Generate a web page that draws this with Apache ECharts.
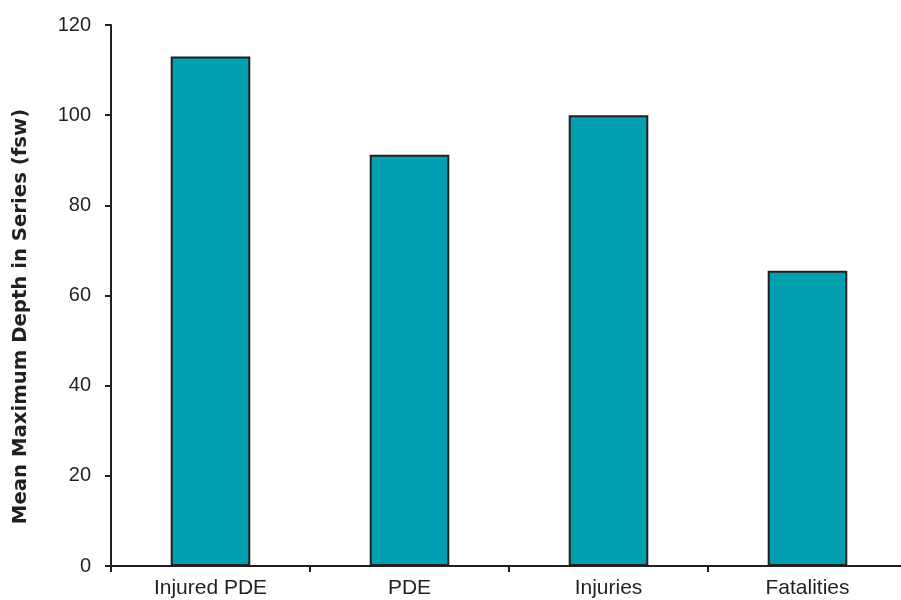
<!DOCTYPE html>
<html><head><meta charset="utf-8">
<script src="https://cdn.jsdelivr.net/npm/echarts@6/dist/echarts.min.js"></script>
<style>html,body{margin:0;padding:0;background:#fff}#c{width:901px;height:600px}</style>
</head><body><div id="c"></div>
<script>
const categories = ["Injured PDE", "PDE", "Injuries", "Fatalities"];
const meanDepth = [113, 91.2, 100, 65.5];
const yTitle = "Mean Maximum Depth in Series (fsw)";

const chart = echarts.init(document.getElementById('c'), null, {renderer: 'canvas'});
const txt = '#231f20';
chart.setOption({
  animation: false,
  backgroundColor: '#ffffff',
  grid: {left: 111, top: 25, width: 796, height: 541, containLabel: false, outerBoundsMode: 'none'},
  graphic: [{
    type: 'text', x: 20.5, y: 316.5, rotation: Math.PI / 2,
    style: {text: yTitle, fill: txt, fontSize: 19.7, fontWeight: 'bold',
      fontFamily: 'DejaVu Sans, sans-serif', align: 'center', verticalAlign: 'middle'}
  }],
  xAxis: {
    type: 'category', data: categories, boundaryGap: true,
    axisLine: {lineStyle: {color: txt, width: 2}},
    axisTick: {show: true, length: 6, alignWithLabel: false, lineStyle: {color: txt, width: 2}},
    axisLabel: {color: txt, fontSize: 21, fontFamily: 'Liberation Sans, Arial, sans-serif', margin: 12}
  },
  yAxis: {
    type: 'value', min: 0, max: 120, interval: 20,
    axisLine: {show: true, lineStyle: {color: txt, width: 2}},
    axisTick: {show: true, length: 6, lineStyle: {color: txt, width: 2}},
    splitLine: {show: false},
    axisLabel: {color: txt, fontSize: 20, fontFamily: 'Liberation Sans, Arial, sans-serif', margin: 20}
  },
  series: [{
    type: 'bar', data: meanDepth, barWidth: '40%',
    itemStyle: {color: '#00a0b0', borderColor: txt, borderWidth: 2}
  }]
});
</script></body></html>
